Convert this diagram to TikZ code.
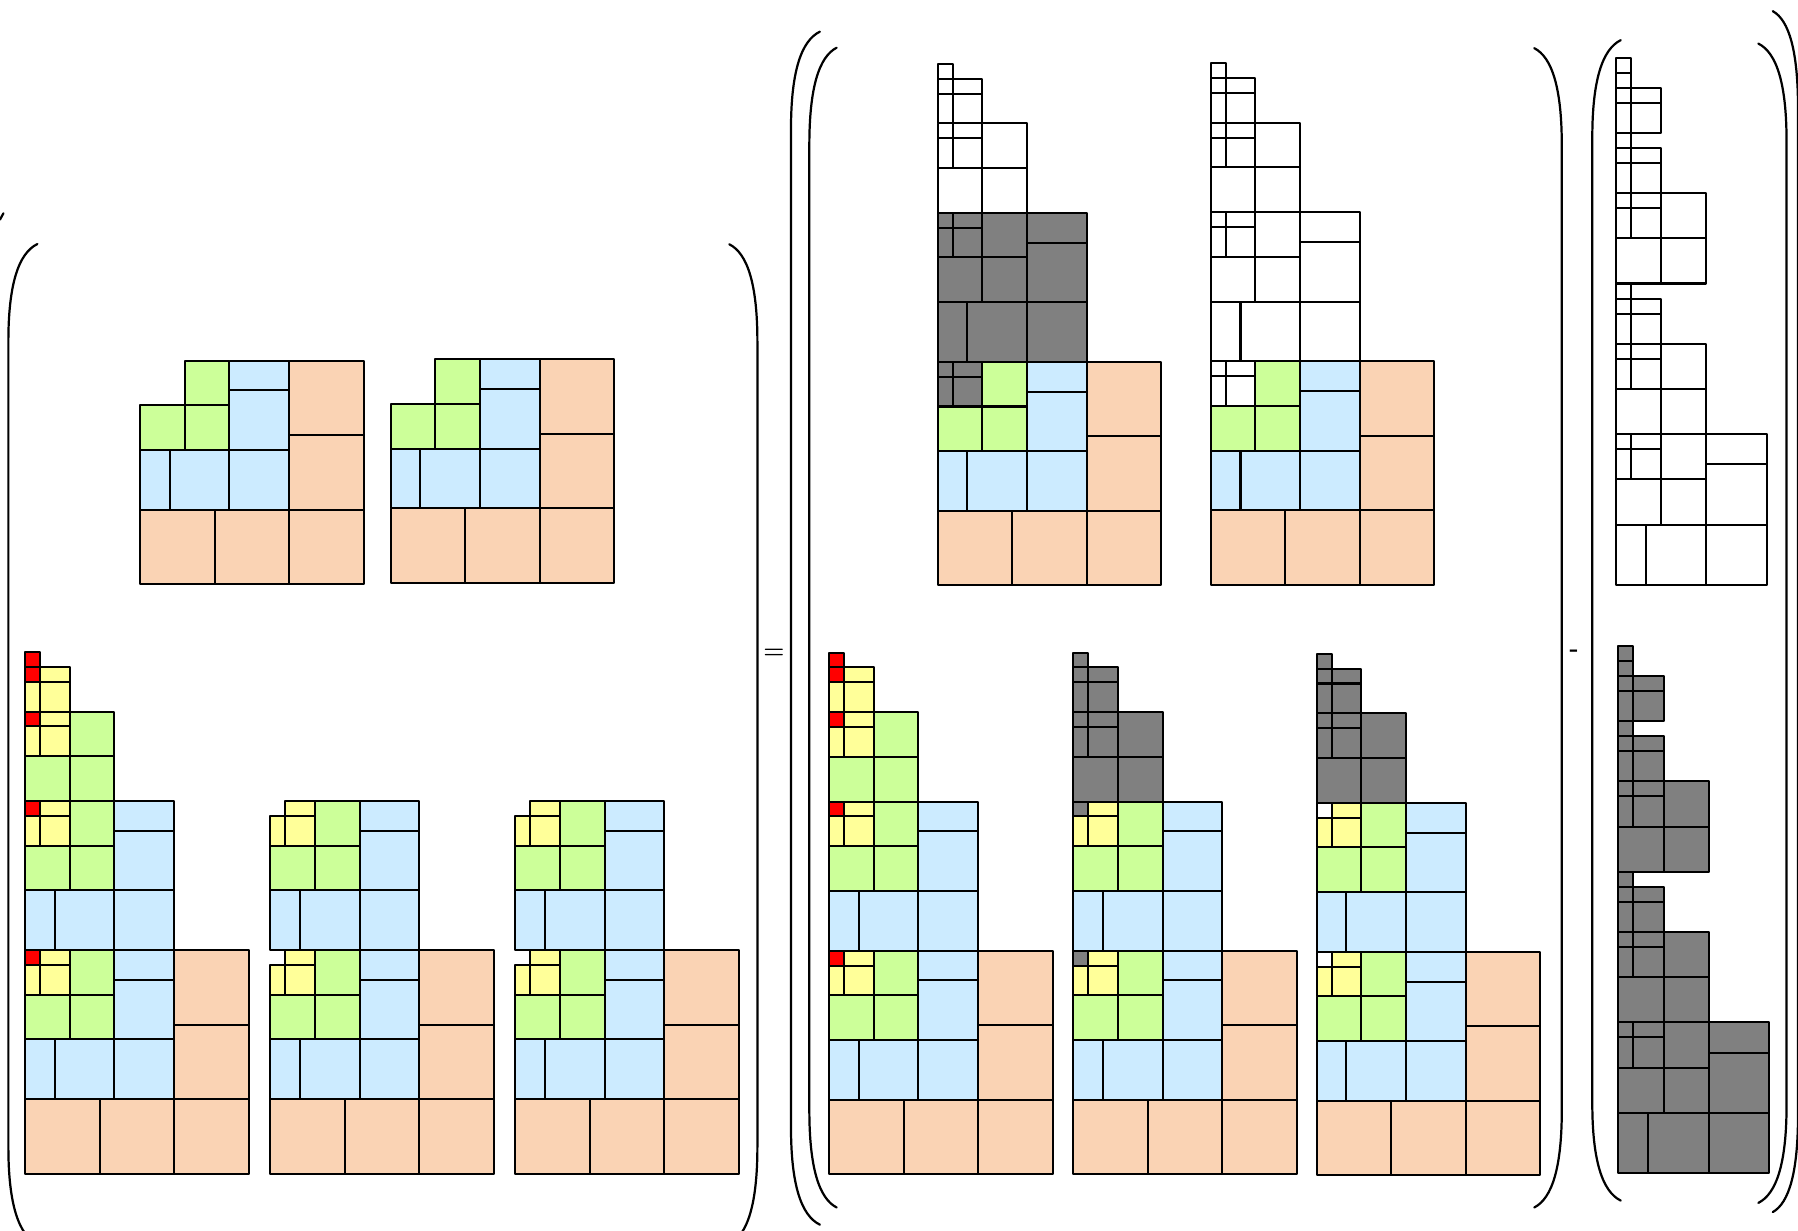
\documentclass[tikz,border=0pt]{standalone}
\usepackage{tikz}
\usetikzlibrary{calc}

\definecolor{peachcol}{HTML}{FAD3B4}
\definecolor{skycol}{HTML}{CCEBFF}
\definecolor{limecol}{HTML}{CCFF99}
\definecolor{lemoncol}{HTML}{FFFF99}
\definecolor{redcol}{HTML}{FF0000}
\definecolor{darkcol}{HTML}{808080}

% cells of one tier, block corner at (0,0), y pointing down; "-" leaves the tier out
\newcommand\tierfive[1]{\ifx-#1\else
  \filldraw[fill=#1] (0,10) rectangle (5,15) (5,10) rectangle (10,15) (10,10) rectangle (15,15)
    (10,0) rectangle (15,5) (10,5) rectangle (15,10);\fi}
\newcommand\tierfour[1]{\ifx-#1\else
  \filldraw[fill=#1] (0,6) rectangle (2,10) (2,6) rectangle (6,10) (6,6) rectangle (10,10)
    (6,0) rectangle (10,2) (6,2) rectangle (10,6);\fi}
\newcommand\tierthree[1]{\ifx-#1\else
  \filldraw[fill=#1] (0,3) rectangle (3,6) (3,3) rectangle (6,6) (3,0) rectangle (6,3);\fi}
\newcommand\tiertwo[1]{\ifx-#1\else
  \filldraw[fill=#1] (0,1) rectangle (1,3) (1,1) rectangle (3,3) (1,0) rectangle (3,1);\fi}
\newcommand\tierone[1]{\ifx-#1\else
  \filldraw[fill=#1] (0,0) rectangle (1,1);\fi}

% a block at height #1 with the colours of tiers 5..1
\newcommand\blockat[6]{%
  \begin{scope}[shift={(0,#1)}]
    \tierfive{#2}\tierfour{#3}\tierthree{#4}\tiertwo{#5}\tierone{#6}
  \end{scope}}

% a round bracket: tip x, spine x, top y, bottom y
\newcommand\roundbar[4]{%
  \pgfmathsetmacro\barmid{#1+0.65*(#2-#1)}
  \draw[paren] (#1,#3) .. controls (\barmid,#3+8) and (#2,#3+35) .. (#2,#3+85)
    -- (#2,#4-85) .. controls (#2,#4-35) and (\barmid,#4-8) .. (#1,#4);}

\begin{document}
\begin{tikzpicture}[x=0.02cm, y=-0.02cm, line width=1pt, line join=round,
    tile/.style={x=#1, y=-#1},
    paren/.style={line width=1.1pt, line cap=round}]
  \useasboundingbox (0,0) rectangle (1568,1073);
  \clip (0,0) rectangle (1568,1073);

  % Left group, top row
  \begin{scope}[shift={(122.1,314.5)}, tile=0.26cm]
    \blockat{0}{peachcol}{skycol}{limecol}{-}{-}
  \end{scope}
  \begin{scope}[shift={(340.7,313.4)}, tile=0.26cm]
    \blockat{0}{peachcol}{skycol}{limecol}{-}{-}
  \end{scope}

  % Left group, bottom row
  \begin{scope}[shift={(21.8,828.5)}, tile=0.26cm]
    \blockat{0}{peachcol}{skycol}{limecol}{lemoncol}{redcol}
    \blockat{-10}{-}{skycol}{limecol}{lemoncol}{redcol}
    \blockat{-16}{-}{-}{limecol}{lemoncol}{redcol}
    \blockat{-19}{-}{-}{-}{lemoncol}{redcol}
    \blockat{-20}{-}{-}{-}{-}{redcol}
  \end{scope}
  \begin{scope}[shift={(235.8,828.5)}, tile=0.26cm]
    \blockat{0}{peachcol}{skycol}{limecol}{lemoncol}{-}
    \blockat{-10}{-}{skycol}{limecol}{lemoncol}{-}
  \end{scope}
  \begin{scope}[shift={(449.4,828.5)}, tile=0.26cm]
    \blockat{0}{peachcol}{skycol}{limecol}{lemoncol}{-}
    \blockat{-10}{-}{skycol}{limecol}{lemoncol}{-}
  \end{scope}

  % Right group, top row
  \begin{scope}[shift={(817.7,315.5)}, tile=0.26cm]
    \blockat{0}{peachcol}{skycol}{limecol}{darkcol}{darkcol}
    \blockat{-10}{-}{darkcol}{darkcol}{darkcol}{darkcol}
    \blockat{-16}{-}{-}{white}{white}{white}
    \blockat{-19}{-}{-}{-}{white}{white}
    \blockat{-20}{-}{-}{-}{-}{white}
  \end{scope}
  \begin{scope}[shift={(1055.8,315)}, tile=0.26cm]
    \blockat{0}{peachcol}{skycol}{limecol}{white}{white}
    \blockat{-10}{-}{white}{white}{white}{white}
    \blockat{-16}{-}{-}{white}{white}{white}
    \blockat{-19}{-}{-}{-}{white}{white}
    \blockat{-20}{-}{-}{-}{-}{white}
  \end{scope}

  % Right group, bottom row
  \begin{scope}[shift={(723,829)}, tile=0.26cm]
    \blockat{0}{peachcol}{skycol}{limecol}{lemoncol}{redcol}
    \blockat{-10}{-}{skycol}{limecol}{lemoncol}{redcol}
    \blockat{-16}{-}{-}{limecol}{lemoncol}{redcol}
    \blockat{-19}{-}{-}{-}{lemoncol}{redcol}
    \blockat{-20}{-}{-}{-}{-}{redcol}
  \end{scope}
  \begin{scope}[shift={(936,829)}, tile=0.26cm]
    \blockat{0}{peachcol}{skycol}{limecol}{lemoncol}{darkcol}
    \blockat{-10}{-}{skycol}{limecol}{lemoncol}{darkcol}
    \blockat{-16}{-}{-}{darkcol}{darkcol}{darkcol}
    \blockat{-19}{-}{-}{-}{darkcol}{darkcol}
    \blockat{-20}{-}{-}{-}{-}{darkcol}
  \end{scope}
  \begin{scope}[shift={(1148.2,830)}, tile=0.26cm]
    \blockat{0}{peachcol}{skycol}{limecol}{lemoncol}{white}
    \blockat{-10}{-}{skycol}{limecol}{lemoncol}{white}
    \blockat{-16}{-}{-}{darkcol}{darkcol}{darkcol}
    \blockat{-19}{-}{-}{-}{darkcol}{darkcol}
    \blockat{-20}{-}{-}{-}{-}{darkcol}
  \end{scope}

  % Subtracted pair
  \begin{scope}[shift={(1409.3,378.6)}, tile=0.2628cm]
    \blockat{0}{-}{white}{white}{white}{white}
    \blockat{-6}{-}{-}{white}{white}{white}
    \blockat{-9}{-}{-}{-}{white}{white}
    \blockat{-10}{-}{-}{-}{-}{white}
    \blockat{-16}{-}{-}{white}{white}{white}
    \blockat{-19}{-}{-}{-}{white}{white}
    \blockat{-20}{-}{-}{-}{-}{white}
    \blockat{-23}{-}{-}{-}{white}{white}
    \blockat{-24}{-}{-}{-}{-}{white}
    \blockat{-25}{-}{-}{-}{-}{white}
  \end{scope}
  \begin{scope}[shift={(1411.3,891.6)}, tile=0.2628cm]
    \blockat{0}{-}{darkcol}{darkcol}{darkcol}{darkcol}
    \blockat{-6}{-}{-}{darkcol}{darkcol}{darkcol}
    \blockat{-9}{-}{-}{-}{darkcol}{darkcol}
    \blockat{-10}{-}{-}{-}{-}{darkcol}
    \blockat{-16}{-}{-}{darkcol}{darkcol}{darkcol}
    \blockat{-19}{-}{-}{-}{darkcol}{darkcol}
    \blockat{-20}{-}{-}{-}{-}{darkcol}
    \blockat{-23}{-}{-}{-}{darkcol}{darkcol}
    \blockat{-24}{-}{-}{-}{-}{darkcol}
    \blockat{-25}{-}{-}{-}{-}{darkcol}
  \end{scope}

  % Brackets
  \draw[paren] (0,191.5) -- (3,186);
  \roundbar{32.6}{7.3}{212.8}{1085}
  \roundbar{636}{660.5}{213}{1085}
  \roundbar{715}{689.8}{27.6}{1068}
  \roundbar{729.6}{705.8}{41.6}{1053}
  \roundbar{1338}{1362}{42}{1053}
  \roundbar{1413.4}{1388.6}{35}{1047}
  \roundbar{1533.4}{1558}{38}{1049}
  \roundbar{1546}{1568}{9.7}{1057}

  % Signs
  \node[font=\large\bfseries] (equal) at (675,570) {=};
  \node[font=\large\bfseries] (minus) at (1372.8,569.5) {-};
\end{tikzpicture}
\end{document}
